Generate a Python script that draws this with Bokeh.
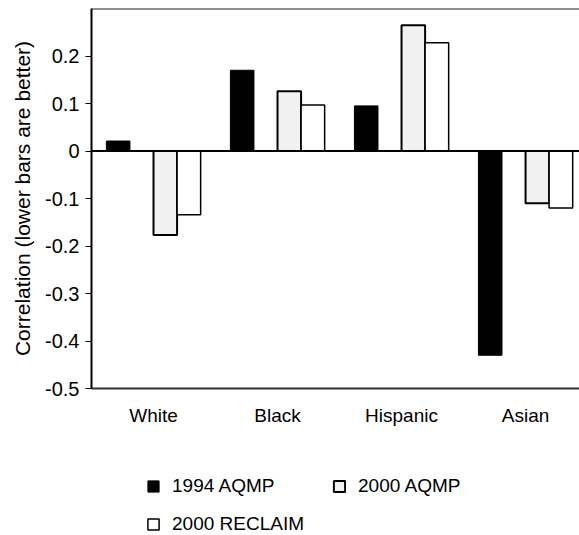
import numpy as np
from bokeh.plotting import figure
from bokeh.layouts import column
from bokeh.models import (Range1d, FixedTicker, Span, Legend, LegendItem,
                          ColumnDataSource, CustomJSTickFormatter)
from bokeh.embed import file_html
from bokeh.resources import INLINE

# ---- data -------------------------------------------------------------
categories = ["White", "Black", "Hispanic", "Asian"]
aqmp_1994 = [0.021, 0.170, 0.095, -0.430]
aqmp_2000 = [-0.177, 0.126, 0.265, -0.110]
reclaim_2000 = [-0.134, 0.097, 0.228, -0.120]
series_names = ["1994 AQMP", "2000 AQMP", "2000 RECLAIM"]
y_ticks = [-0.5, -0.4, -0.3, -0.2, -0.1, 0, 0.1, 0.2]
y_title = "Correlation (lower bars are better)"

FONT = "Liberation Sans"
BAR_W = 0.19
offsets = [-1.5 * BAR_W, 0.5 * BAR_W, 1.5 * BAR_W]
MAIN_H = 440
TOTAL_H = 535

p = figure(width=579, height=MAIN_H, output_backend="svg", toolbar_location=None,
           x_range=Range1d(-0.5, 3.435), y_range=Range1d(-0.5, 0.3),
           min_border_left=91, min_border_right=0, min_border_top=8,
           min_border_bottom=MAIN_H - 388)
p.outline_line_color = None
p.xgrid.visible = False
p.ygrid.visible = False
p.background_fill_color = "white"
p.border_fill_color = "white"

idx = np.arange(len(categories))
styles = [
    dict(fill_color="black", line_color="black", line_width=1),
    dict(fill_color="#f1f1f1", line_color="black", line_width=2),
    dict(fill_color="white", line_color="black", line_width=1.5),
]
sources = []
for vals, off, st in zip([aqmp_1994, aqmp_2000, reclaim_2000], offsets, styles):
    src = ColumnDataSource(dict(x=idx + off, top=vals))
    sources.append(src)
    p.vbar(x="x", top="top", bottom=0, width=BAR_W, source=src, **st)

# reference lines: zero line and top rule
p.add_layout(Span(location=0, dimension="width", line_color="black", line_width=2))
p.add_layout(Span(location=0.3, dimension="width", line_color="#222222", line_width=2))

# y axis
ya = p.yaxis[0]
ya.ticker = FixedTicker(ticks=y_ticks, minor_ticks=[])
ya.formatter = CustomJSTickFormatter(code="return tick == 0 ? '0' : tick.toFixed(1);")
ya.major_tick_out = 6
ya.major_tick_in = 0
ya.major_tick_line_width = 1
ya.axis_line_width = 2
ya.major_label_standoff = 6
ya.major_label_text_font = FONT
ya.major_label_text_font_size = "20px"
ya.major_label_text_color = "black"
ya.axis_label = y_title
ya.axis_label_text_font = FONT
ya.axis_label_text_font_size = "21px"
ya.axis_label_text_font_style = "normal"
ya.axis_label_text_color = "black"
ya.axis_label_standoff = 8

# x axis
xa = p.xaxis[0]
xa.ticker = FixedTicker(ticks=list(idx), minor_ticks=[])
xa.major_label_overrides = {int(i): c for i, c in zip(idx, categories)}
xa.major_tick_line_color = None
xa.minor_tick_line_color = None
xa.axis_line_width = 2
xa.axis_line_color = "#333333"
xa.major_label_standoff = 10
xa.major_label_text_font = FONT
xa.major_label_text_font_size = "19px"
xa.major_label_text_color = "black"

# ---- legend strip below the chart (same sources, renderers hidden) ----
leg = figure(width=579, height=TOTAL_H - MAIN_H, output_backend="svg",
             toolbar_location=None, x_range=Range1d(20, 21), y_range=Range1d(20, 21),
             min_border=0, x_axis_location=None, y_axis_location=None)
leg.outline_line_color = None
leg.xgrid.visible = False
leg.ygrid.visible = False
leg_renderers = [leg.vbar(x="x", top="top", bottom=0, width=BAR_W, source=s,
                          visible=False, **st)
                 for s, st in zip(sources, styles)]

legend = Legend(
    items=[LegendItem(label=n, renderers=[r]) for n, r in zip(series_names, leg_renderers)],
    location=(55, 0), orientation="horizontal", ncols=2,
    padding=0, spacing=16, margin=0,
    glyph_width=14, glyph_height=14, label_standoff=12, label_height=22,
    label_width=144, inactive_fill_alpha=0,
    label_text_font=FONT, label_text_font_size="19px", label_text_color="black",
    background_fill_alpha=0, border_line_color=None,
)
leg.add_layout(legend, "center")

layout = column(p, leg, spacing=0)
open("out.html", "w").write(file_html(layout, INLINE))
